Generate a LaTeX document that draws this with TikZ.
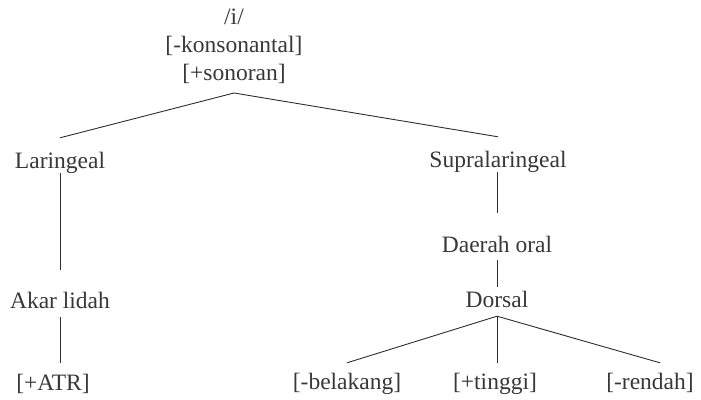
\documentclass[tikz,border=0pt]{standalone}
\usepackage{fontspec}
\setmainfont{Liberation Serif}
\tikzset{
    feat/.style = {
        inner sep=0pt,
        text height=16pt,
        text depth=5pt,
        anchor=base,
        text=black!78,
        font=\fontsize{23.5}{28}\selectfont
    },
    root_feat/.style = {
        inner sep=0pt,
        align=center,
        anchor=south,
        text=black!78,
        font=\fontsize{23.5}{28}\selectfont
    },
    branch/.style = {
        draw=black!82,
        line width=0.9pt
    },
}
\begin{document}
\begin{tikzpicture}[x=1pt, y=-1pt]
                \useasboundingbox (0, 0) rectangle (701, 399);

                % root segment
                \node[root_feat] (root) at (234, 84) {/i/\\{[}-konsonantal]\\{[}+sonoran]};

                % left branch
                \node[feat] (lar) at (60, 168) {Laringeal};
                \node[feat] (akar) at (60, 308) {Akar lidah};
                \node[feat] (atr) at (53, 390) {[+ATR]};

                % right branch
                \node[feat] (supra) at (498, 167) {Supralaringeal};
                \node[feat] (oral) at (497, 252) {Daerah oral};
                \node[feat] (dorsal) at (497, 307) {Dorsal};
                \node[feat] (blk) at (347, 389) {[-belakang]};
                \node[feat] (tgi) at (495, 389) {[+tinggi]};
                \node[feat] (rdh) at (650, 389) {[-rendah]};

                \path[branch] ([yshift=-9pt]root.south) -- ([yshift=14pt]lar.north);
                \path[branch] ([yshift=-9pt]root.south) -- ([yshift=14pt]supra.north);

                \path[branch] (lar.south) -- ([yshift=22pt]akar.north);
                \path[branch] ([yshift=-4pt]akar.south) -- ([yshift=11pt]akar.south |- atr.north);

                \path[branch] (oral.north |- supra.south) -- ([yshift=23pt]oral.north);
                \path[branch] ([yshift=-3pt]oral.south) -- ([yshift=4pt]dorsal.north);
                \path[branch] ([yshift=-4pt]dorsal.south) -- ([yshift=10pt]blk.north);
                \path[branch] ([yshift=-4pt]dorsal.south) -- ([yshift=10pt]dorsal.south |- tgi.north);
                \path[branch] ([yshift=-4pt]dorsal.south) -- ([xshift=10pt, yshift=10pt]rdh.north);
            \end{tikzpicture}
\end{document}
